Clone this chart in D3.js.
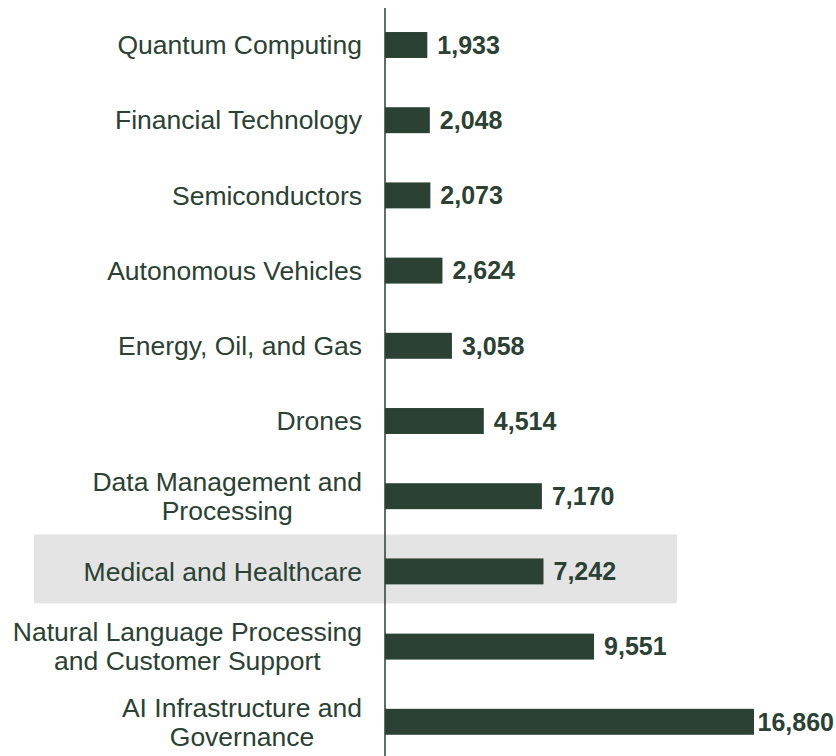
<!DOCTYPE html>
<html>
<head>
<meta charset="utf-8">
<script src="https://cdn.jsdelivr.net/npm/d3@7"></script>
<style>
    body { margin: 0; background: #fff; }
    svg text { font-family: "Liberation Sans", Arial, sans-serif; }
</style>
</head>
<body>
<script>
const categories = [
    "Quantum Computing",
    "Financial Technology",
    "Semiconductors",
    "Autonomous Vehicles",
    "Energy, Oil, and Gas",
    "Drones",
    "Data Management and\nProcessing",
    "Medical and Healthcare",
    "Natural Language Processing\nand Customer Support",
    "AI Infrastructure and\nGovernance"
];
const values = [1933, 2048, 2073, 2624, 3058, 4514, 7170, 7242, 9551, 16860];
const highlighted = ["Medical and Healthcare"];

const width = 836;
const height = 756;
const axisX = 385;
const green = "#2a4133";

const svg = d3.select("body")
    .append("svg")
    .attr("width", width)
    .attr("height", height);

const x = d3.scaleLinear()
    .domain([0, d3.max(values)])
    .range([axisX, 754]);

const y = d3.scaleBand()
    .domain(categories)
    .range([7.4, 759.4])
    .paddingInner(0.655)
    .paddingOuter(0.655 / 2);

const rows = categories.map((c, i) => ({ name: c, value: values[i] }));

// highlight band
svg.append("g")
    .selectAll("rect")
    .data(rows.filter(d => highlighted.includes(d.name)))
    .enter()
    .append("rect")
    .attr("x", 34)
    .attr("y", d => y(d.name) + y.bandwidth() / 2 - 37)
    .attr("width", 677 - 34)
    .attr("height", 69)
    .attr("fill", "#e4e4e4");

// bars
svg.append("g")
    .selectAll("rect")
    .data(rows)
    .enter()
    .append("rect")
    .attr("x", x(0))
    .attr("y", d => y(d.name))
    .attr("width", d => x(d.value) - x(0))
    .attr("height", y.bandwidth())
    .attr("fill", green);

// axis line
svg.append("line")
    .attr("x1", axisX)
    .attr("x2", axisX)
    .attr("y1", 8)
    .attr("y2", height)
    .attr("stroke", green)
    .attr("stroke-width", 1.5);

// category labels (multi-line blocks are centred, block is right aligned)
const labelRight = 362;
const lineH = 29;
const labels = svg.append("g")
    .selectAll("g")
    .data(rows)
    .enter()
    .append("g")
    .attr("transform", d => `translate(0,${y(d.name) + y.bandwidth() / 2})`);

labels.each(function (d) {
    const g = d3.select(this);
    const lines = d.name.split("\n");
    const texts = lines.map((line, i) => g.append("text")
        .attr("y", (i - (lines.length - 1) / 2) * lineH)
        .attr("dy", "0.35em")
        .attr("font-size", 26.5)
        .attr("fill", green)
        .text(line));
    const maxW = d3.max(texts, t => t.node().getComputedTextLength());
    texts.forEach(t => t.attr("x", labelRight - maxW / 2).attr("text-anchor", "middle"));
});

// value labels
svg.append("g")
    .selectAll("text")
    .data(rows)
    .enter()
    .append("text")
    .attr("y", d => y(d.name) + y.bandwidth() / 2)
    .attr("dy", "0.35em")
    .attr("font-size", 25)
    .attr("font-weight", "bold")
    .attr("fill", green)
    .text(d => d3.format(",")(d.value))
    .each(function (d) {
        const w = this.getComputedTextLength();
        d3.select(this).attr("x", Math.min(x(d.value) + 10, width - w - 2));
    });
</script>
</body>
</html>
